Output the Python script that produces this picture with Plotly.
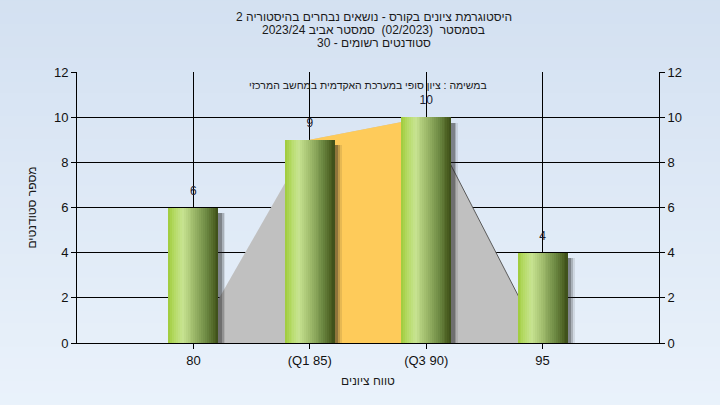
import plotly.graph_objects as go

# ---------------- data ----------------
categories = ["80", "(Q1 85)", "(Q3 90)", "95"]
counts = [6, 9, 10, 4]
area_values = [0, 9, 10, 0]          # light gray distribution area
iqr_categories = ["(Q1 85)", "(Q3 90)"]
iqr_values = [9, 10]                  # orange inter-quartile band
y_ticks = [0, 2, 4, 6, 8, 10, 12]

title_lines = [
    "היסטוגרמת ציונים בקורס - נושאים נבחרים בהיסטוריה 2",
    "בסמסטר  (02/2023)  סמסטר אביב 2023/24",
    "סטודנטים רשומים - 30",
]
subtitle = "במשימה : ציון סופי במערכת האקדמית במחשב המרכזי"
x_title = "טווח ציונים"
y_title = "מספר סטודנטים"

FONT = "Liberation Sans, Arial, sans-serif"

fig = go.Figure()

# ---- base subplot (x, y): area shapes under the bars ----
fig.add_trace(go.Scatter(x=categories, y=area_values, mode="lines", fill="tozeroy",
                         fillcolor="#c0c0c0", line=dict(width=0, color="#c0c0c0"),
                         hoverinfo="skip", showlegend=False))
fig.add_trace(go.Scatter(x=categories[2:], y=area_values[2:], mode="lines",
                         line=dict(width=1, color="#5a5a5a"), hoverinfo="skip", showlegend=False))
fig.add_trace(go.Scatter(x=iqr_categories, y=iqr_values, mode="lines", fill="tozeroy",
                         fillcolor="#fecb5a", line=dict(width=0, color="#fecb5a"),
                         hoverinfo="skip", showlegend=False))

# ---- overlay subplot (x2, y2): bars ----
W = 0.43
for dx, alpha in [(0.06, 0.10), (0.045, 0.20), (0.03, 0.30)]:
    fig.add_trace(go.Bar(x=categories, y=[v - 0.25 for v in counts], width=W,
                         offset=-W / 2 + dx, xaxis="x2", yaxis="y2",
                         marker=dict(color=f"rgba(30,30,30,{alpha})", line=dict(width=0)),
                         hoverinfo="skip", showlegend=False))

stops = [(0.0, (158, 203, 58)), (0.12, (180, 218, 100)), (0.28, (200, 228, 145)),
         (0.5, (160, 188, 108)), (0.75, (110, 138, 68)), (0.93, (74, 94, 32)), (1.0, (60, 78, 25))]
def grad(t):
    for (t0, c0), (t1, c1) in zip(stops[:-1], stops[1:]):
        if t0 <= t <= t1:
            f = (t - t0) / (t1 - t0) if t1 > t0 else 0
            return "rgb(%d,%d,%d)" % tuple(round(a + (b - a) * f) for a, b in zip(c0, c1))
    return "rgb(%d,%d,%d)" % stops[-1][1]

N = 26
sw = W / N
for i in range(N):
    fig.add_trace(go.Bar(x=categories, y=counts, width=sw * (1.15 if i < N - 1 else 1.0),
                         offset=-W / 2 + i * sw, xaxis="x2", yaxis="y2",
                         marker=dict(color=grad((i + 0.5) / N), line=dict(width=0)),
                         hoverinfo="skip", showlegend=False))

fig.add_trace(go.Scatter(x=categories, y=counts, mode="text+markers", text=[str(v) for v in counts],
                         textposition="top center", xaxis="x2", yaxis="y2",
                         marker=dict(size=14, opacity=0),
                         textfont=dict(family=FONT, size=12, color="#1c1c30"),
                         hoverinfo="skip", showlegend=False))

# ---- background gradient bands ----
top = (211, 224, 241)
bot = (236, 244, 252)
NB = 40
shapes = []
for k in range(NB):
    f = k / (NB - 1)
    col = "rgb(%d,%d,%d)" % tuple(round(a + (b - a) * f) for a, b in zip(top, bot))
    shapes.append(dict(type="rect", xref="paper", yref="paper", layer="below",
                       x0=-0.2, x1=1.2, y0=1.3 - (k + 1) * 1.7 / NB, y1=1.3 - k * 1.7 / NB + 0.005,
                       fillcolor=col, line=dict(width=0)))

annotations = []
for j, line in enumerate(title_lines):
    annotations.append(dict(text=line, xref="paper", yref="paper", x=0.51, y=1,
                            yanchor="middle", xanchor="center", yshift=55 - 13 * j, showarrow=False,
                            font=dict(family=FONT, size=12, color="#1a1a1a")))
annotations.append(dict(text=subtitle, xref="paper", yref="paper", x=0.5, y=1,
                        yanchor="middle", xanchor="center", yshift=-13, showarrow=False,
                        font=dict(family=FONT, size=10.5, color="#1a1a1a")))

axis_font = dict(family=FONT, size=13, color="#111111")
fig.update_layout(
    width=720, height=405,
    margin=dict(l=77, r=61, t=72, b=62),
    paper_bgcolor="#e2ecf8",
    plot_bgcolor="#b3b3b3",
    barmode="overlay",
    bargap=0,
    shapes=shapes,
    annotations=annotations,
    xaxis=dict(type="category", categoryorder="array", categoryarray=categories,
               range=[-1, 4], showgrid=True, gridcolor="#000000", gridwidth=1,
               showline=True, linecolor="#000000", linewidth=1,
               ticks="outside", ticklen=5, tickcolor="#000000", tickfont=axis_font,
               title=dict(text=x_title, font=dict(family=FONT, size=12, color="#1a1a1a"), standoff=10),
               zeroline=False, fixedrange=True),
    xaxis2=dict(type="category", categoryorder="array", categoryarray=categories,
                range=[-1, 4], overlaying="x", visible=False, showgrid=False),
    yaxis=dict(range=[0, 12], tickvals=y_ticks, showgrid=True, gridcolor="#000000", gridwidth=1,
               showline=True, linecolor="#000000", linewidth=1,
               ticks="outside", ticklen=5, tickcolor="#000000", tickfont=axis_font,
               title=dict(text=y_title, font=dict(family=FONT, size=12, color="#1a1a1a"), standoff=14),
               zeroline=False),
    yaxis2=dict(range=[0, 12], tickvals=y_ticks, overlaying="y", side="right", showgrid=False,
                showline=True, linecolor="#000000", linewidth=1,
                ticks="outside", ticklen=5, tickcolor="#000000", tickfont=axis_font, zeroline=False),
    showlegend=False,
)

fig.write_html("out.html", config={"displayModeBar": False},
               post_script="document.body.style.margin='0';")
